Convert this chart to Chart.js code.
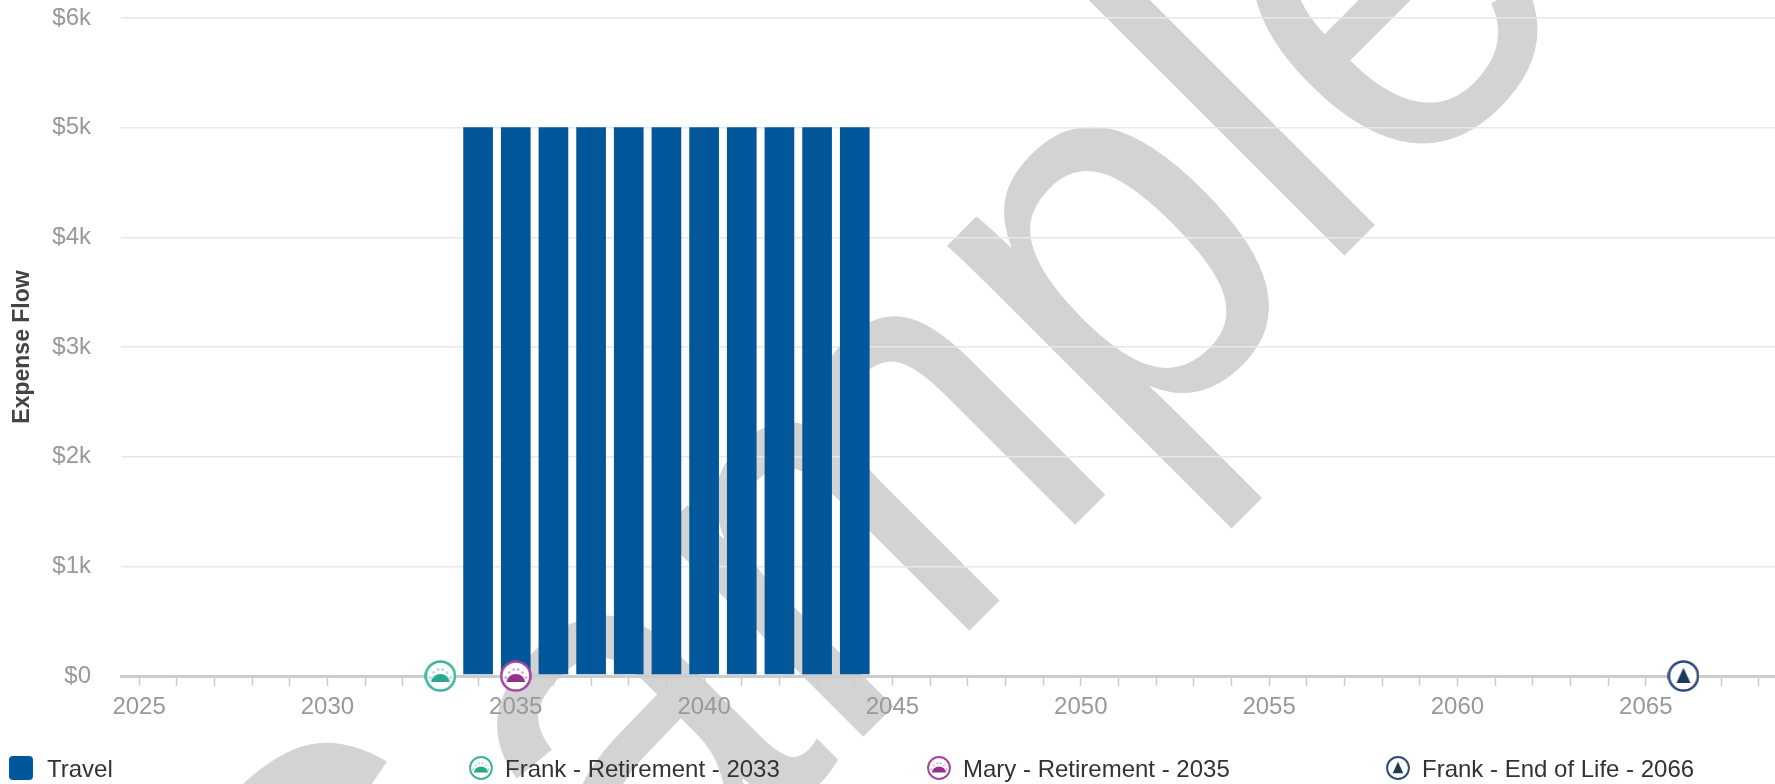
<!DOCTYPE html>
<html>
<head>
<meta charset="utf-8">
<title>Expense Flow</title>
<script src="https://cdn.jsdelivr.net/npm/chart.js@4"></script>
<style>
  body { margin: 0; background: #fff; font-family: "Liberation Sans", Arial, sans-serif; }
  #wrap { position: relative; width: 1775px; height: 784px; overflow: hidden; }
  #legend { position: absolute; left: 0; top: 756px; width: 1775px; height: 24px; }
  .item { position: absolute; top: 0; height: 24px; line-height: 24px; font-size: 24px; color: #333; white-space: nowrap; }
  .item canvas, .item .swatch { position: absolute; left: 0; top: 0; }
  .item .swatch { width: 24px; height: 24px; border-radius: 4px; background: #02569a; }
  .item span { position: absolute; top: 1px; }
</style>
</head>
<body>
<div id="wrap">
  <canvas id="expense-flow" width="1775" height="784"></canvas>
  <div id="legend"></div>
</div>
<script>
const travelYears = [2034, 2035, 2036, 2037, 2038, 2039, 2040, 2041, 2042, 2043, 2044];
const travelValues = [5000, 5000, 5000, 5000, 5000, 5000, 5000, 5000, 5000, 5000, 5000];
const yearTicks = [2025, 2026, 2027, 2028, 2029, 2030, 2031, 2032, 2033, 2034, 2035, 2036, 2037, 2038, 2039,
  2040, 2041, 2042, 2043, 2044, 2045, 2046, 2047, 2048, 2049, 2050, 2051, 2052, 2053, 2054, 2055, 2056, 2057,
  2058, 2059, 2060, 2061, 2062, 2063, 2064, 2065, 2066, 2067, 2068];
const yearLabels = [2025, 2030, 2035, 2040, 2045, 2050, 2055, 2060, 2065];
const eventNames = ['Frank - Retirement - 2033', 'Mary - Retirement - 2035', 'Frank - End of Life - 2066'];
const eventYears = [2033, 2035, 2066];
const eventValues = [0, 0, 0];
const eventColors = ['#3bb39b', '#a0469f', '#2c4a78'];
const eventInk = ['#2aa88c', '#96308f', '#1b3a57'];
const eventKinds = ['sun', 'sun', 'peak'];

// Builds the round marker used on the axis and in the legend
const makeIcon = (size, color, ink, kind) => {
  const icon = document.createElement('canvas');
  icon.width = size;
  icon.height = size;
  const c = icon.getContext('2d');
  const r = size / 2;
  c.beginPath();
  c.arc(r, r, r - size * 0.045, 0, Math.PI * 2);
  c.fillStyle = '#fff';
  c.fill();
  c.lineWidth = size * 0.08;
  c.strokeStyle = color;
  c.stroke();
  c.fillStyle = ink;
  if (kind === 'sun') {
    c.beginPath();
    c.ellipse(r, r + size * 0.19, size * 0.29, size * 0.25, 0, Math.PI, 0);
    c.closePath();
    c.fill();
    c.globalAlpha = 0.45;
    [[-0.32, 0.05], [-0.21, -0.11], [-0.07, -0.2], [0.07, -0.2], [0.21, -0.11], [0.32, 0.05]].forEach(([dx, dy]) => {
      c.beginPath();
      c.arc(r + dx * size, r + dy * size, size * 0.04, 0, Math.PI * 2);
      c.fill();
    });
  } else {
    c.beginPath();
    c.moveTo(r, r - size * 0.26);
    c.lineTo(r + size * 0.22, r + size * 0.22);
    c.lineTo(r - size * 0.22, r + size * 0.22);
    c.closePath();
    c.fill();
  }
  return icon;
};

// Big grey word behind everything else
const watermark = {
  id: 'watermark',
  beforeDraw(chart) {
    const c = chart.ctx;
    c.save();
    c.fillStyle = '#fff';
    c.fillRect(0, 0, chart.width, chart.height);
    c.translate(415, 1185);
    c.rotate(-Math.PI / 4);
    c.scale(0.9, 1);
    c.font = '545px "Liberation Sans", Arial, sans-serif';
    c.fillStyle = '#d3d3d3';
    c.textBaseline = 'alphabetic';
    // the S sits a little further out than the font's own spacing
    c.fillText('S', -19, -25);
    c.fillText('ample', c.measureText('S').width, 0);
    c.restore();
  },
};

const tickFont = { family: '"Liberation Sans", Arial, sans-serif', size: 24 };

const eventDatasets = eventNames.map((name, i) => ({
  type: 'scatter',
  label: name,
  data: [{ x: eventYears[i], y: eventValues[i] }],
  pointStyle: makeIcon(32, eventColors[i], eventInk[i], eventKinds[i]),
  pointRadius: 16,
  clip: false,
  order: 0,
}));

new Chart(document.getElementById('expense-flow'), {
  type: 'bar',
  plugins: [watermark],
  data: {
    datasets: [
      {
        label: 'Travel',
        data: travelYears.map((year, i) => ({ x: year, y: travelValues[i] })),
        backgroundColor: '#02569a',
        borderWidth: 0,
        barThickness: 29,
        base: 18,
        order: 1,
      },
      ...eventDatasets,
    ],
  },
  options: {
    responsive: false,
    animation: false,
    layout: { autoPadding: false, padding: { top: 18, right: 0, bottom: 0, left: 0 } },
    plugins: { legend: { display: false }, tooltip: { enabled: false } },
    scales: {
      x: {
        type: 'linear',
        offset: false,
        bounds: 'data',
        min: 2024.52,
        max: 2068.43,
        afterBuildTicks: (scale) => {
          scale.ticks = yearTicks.map((value) => ({ value }));
        },
        afterFit: (scale) => {
          scale.height = 108;
          scale.paddingLeft = 0;
          scale.paddingRight = 0;
        },
        border: { color: '#cccccc', width: 3 },
        grid: { offset: false, drawOnChartArea: false, tickLength: 10, tickColor: '#cccccc', tickWidth: 1.5 },
        ticks: {
          autoSkip: false,
          maxRotation: 0,
          padding: 7,
          color: '#999999',
          font: tickFont,
          callback: (value) => (yearLabels.includes(value) ? String(value) : ''),
        },
      },
      y: {
        min: 0,
        max: 6000,
        afterFit: (scale) => {
          scale.width = 121;
          scale.paddingTop = 0;
          scale.paddingBottom = 0;
        },
        border: { display: false },
        grid: { color: '#e8e8e8', lineWidth: 1.5, drawTicks: false },
        title: {
          display: true,
          text: 'Expense Flow',
          color: '#444444',
          padding: { top: 9, bottom: 0 },
          font: { family: tickFont.family, size: 23, weight: 'bold' },
        },
        ticks: {
          stepSize: 1000,
          padding: 30,
          color: '#999999',
          font: tickFont,
          callback: (value) => (value === 0 ? '$0' : `$${value / 1000}k`),
        },
      },
    },
  },
});

// Legend sits in fixed columns, so it is built as plain elements
const legend = document.getElementById('legend');
const addLegendItem = (left, textLeft, mark, name) => {
  const item = document.createElement('div');
  item.className = 'item';
  item.style.left = left + 'px';
  const label = document.createElement('span');
  label.textContent = name;
  label.style.left = textLeft + 'px';
  item.append(mark, label);
  legend.append(item);
};
const swatch = document.createElement('div');
swatch.className = 'swatch';
addLegendItem(9, 38, swatch, 'Travel');
const legendLefts = [469, 927, 1386];
eventNames.forEach((name, i) => {
  addLegendItem(legendLefts[i], 36, makeIcon(24, eventColors[i], eventInk[i], eventKinds[i]), name);
});
</script>
</body>
</html>
